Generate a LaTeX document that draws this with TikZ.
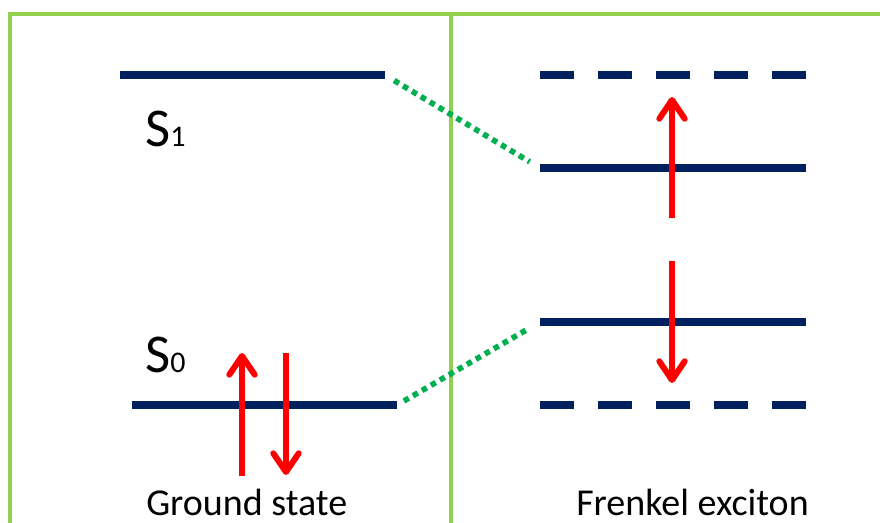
\documentclass[tikz,border=0pt]{standalone}
\usepackage{fontspec}
\setmainfont{Carlito}
\usepackage{tikz}
\usetikzlibrary{arrows.meta}
\definecolor{navy}{HTML}{002060}
\definecolor{framegreen}{HTML}{92D050}
\definecolor{shiftgreen}{HTML}{00B050}
\definecolor{spinred}{HTML}{FF0000}
\tikzset{
  level/.style={draw=navy, line width=6pt},
  virtual/.style={level, dash pattern=on 25.5pt off 18pt},
  shiftline/.style={draw=shiftgreen, line width=4.2pt, dash pattern=on 4.2pt off 3.6pt},
  spin/.style={draw=spinred, line width=4.5pt,
    -{Straight Barb[round, length=14pt, width=19pt]}},
  frame/.style={draw=framegreen, line width=2.3pt},
  caption/.style={font=\fontsize{28.5}{34}\selectfont, anchor=base west, inner sep=0pt},
  statelabel/.style={font=\fontsize{41}{48}\selectfont, anchor=base west, inner sep=0pt}
}
\newcommand{\sub}[1]{{\fontsize{22.5}{26}\selectfont #1}}

\begin{document}
\begin{tikzpicture}[x=0.75pt,y=-0.75pt]
  \clip (0,0) rectangle (880,523);

  % panel frame
  \draw[frame] (10,540) -- (10,14) -- (895,14);
  \draw[frame] (451,14) -- (451,540);

  % molecular levels
  \coordinate (s1l) at (120,75);  \coordinate (s1r) at (385,75);
  \coordinate (s0l) at (132,405); \coordinate (s0r) at (397,405);
  \draw[level] (s1l) -- (s1r);
  \draw[level] (s0l) -- (s0r);
  \node[statelabel] (s1) at (145,147) {S\sub{1}};
  \node[statelabel] (s0) at (145,373) {S\sub{0}};

  % exciton levels
  \coordinate (v1l) at (540,75);  \coordinate (v1r) at (806,75);
  \coordinate (x1l) at (540,168); \coordinate (x1r) at (806,168);
  \coordinate (x2l) at (540,322); \coordinate (x2r) at (806,322);
  \coordinate (v0l) at (540,405); \coordinate (v0r) at (806,405);
  \draw[virtual] (v1l) -- (v1r);
  \draw[level]   (x1l) -- (x1r);
  \draw[level]   (x2l) -- (x2r);
  \draw[virtual] (v0l) -- (v0r);

  % splitting
  \draw[shiftline, shorten <=8pt, shorten >=9pt] (s1r) -- (x1l);
  \draw[shiftline, shorten <=6pt, shorten >=9pt] (s0r) -- (x2l);

  % spins
  \coordinate (g1a) at (242,476); \coordinate (g1b) at (242,353);
  \coordinate (g2a) at (286,353); \coordinate (g2b) at (286,475);
  \coordinate (e1a) at (672,218); \coordinate (e1b) at (672,97);
  \coordinate (e2a) at (672,261); \coordinate (e2b) at (672,383);
  \draw[spin] (g1a) -- (g1b);
  \draw[spin] (g2a) -- (g2b);
  \draw[spin] (e1a) -- (e1b);
  \draw[spin] (e2a) -- (e2b);

  \node[caption] (gs) at (146,515) {Ground state};
  \node[caption] (fe) at (576,515) {Frenkel exciton};
\end{tikzpicture}
\end{document}
